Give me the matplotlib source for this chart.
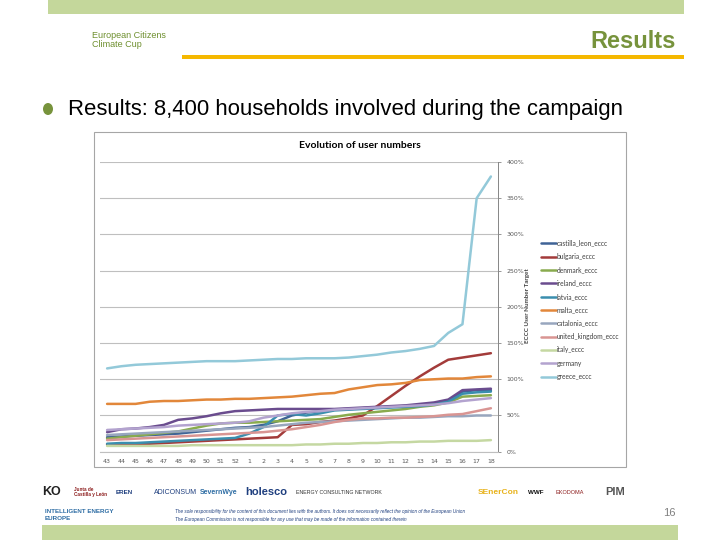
import numpy as np
import matplotlib
matplotlib.use("Agg")
from matplotlib import pyplot as plt
from matplotlib.patches import Rectangle, Ellipse

W, H = 720, 540

# week numbers on the x axis (campaign ran from week 43 to week 18)
WEEKS = ["43", "44", "45", "46", "47", "48", "49", "50", "51", "52",
         "1", "2", "3", "4", "5", "6", "7", "8", "9", "10",
         "11", "12", "13", "14", "15", "16", "17", "18"]

# % of user number target
castilla_leon = [20, 21, 22, 23, 24, 25, 27, 29, 31, 33, 34, 37, 42, 50, 54, 56, 58, 59, 60, 61, 62, 63, 64, 66, 70, 83, 85, 85]
bulgaria = [10, 10, 10, 11, 12, 13, 14, 15, 16, 17, 18, 19, 20, 37, 38, 41, 43, 46, 50, 63, 77, 91, 104, 116, 127, 130, 133, 136]
denmark = [18, 20, 22, 24, 26, 28, 32, 36, 39, 40, 40, 41, 42, 43, 44, 45, 48, 51, 53, 55, 57, 59, 62, 64, 68, 76, 77, 78]
ireland = [27, 31, 32, 34, 37, 44, 46, 49, 53, 56, 57, 58, 59, 59, 59, 59, 59, 60, 61, 62, 63, 64, 66, 68, 72, 85, 86, 87]
latvia = [11, 12, 12, 13, 14, 15, 16, 17, 18, 19, 25, 34, 50, 52, 50, 53, 57, 58, 59, 60, 61, 62, 63, 65, 69, 80, 82, 83]
malta = [66, 66, 66, 69, 70, 70, 71, 72, 72, 73, 73, 74, 75, 76, 78, 80, 81, 86, 89, 92, 93, 95, 99, 100, 101, 101, 103, 104]
catalonia = [23, 24, 25, 26, 27, 28, 29, 30, 31, 32, 33, 34, 36, 38, 40, 41, 42, 43, 44, 45, 46, 47, 47, 48, 49, 49, 50, 50]
united_kingdom = [16, 17, 18, 19, 20, 21, 22, 23, 24, 25, 26, 27, 29, 31, 34, 37, 41, 44, 46, 46, 47, 47, 48, 49, 51, 52, 56, 60]
italy = [8, 8, 8, 8, 8, 8, 9, 9, 9, 9, 9, 9, 9, 9, 10, 10, 11, 11, 12, 12, 13, 13, 14, 14, 15, 15, 15, 16]
germany = [30, 31, 32, 33, 34, 36, 37, 38, 39, 40, 42, 47, 50, 53, 55, 56, 58, 59, 60, 61, 62, 63, 64, 65, 67, 70, 72, 74]
greece = [115, 118, 120, 121, 122, 123, 124, 125, 125, 125, 126, 127, 128, 128, 129, 129, 129, 130, 132, 134, 137, 139, 142, 146, 164, 176, 350, 380]

SERIES_NAMES = ["castilla_leon_eccc", "bulgaria_eccc", "denmark_eccc", "ireland_eccc", "latvia_eccc",
                "malta_eccc", "catalonia_eccc", "united_kingdom_eccc", "italy_eccc", "germany", "greece_eccc"]
SERIES_VALUES = [castilla_leon, bulgaria, denmark, ireland, latvia, malta, catalonia,
                 united_kingdom, italy, germany, greece]
SERIES_COLORS = ["#3F6396", "#A33B3A", "#89AB4E", "#6A4C8E", "#3A8EAE", "#E2873A",
                 "#98A6BE", "#D99593", "#C5D8A2", "#B3A3CF", "#93C9D9"]

Y_TICKS = [0, 50, 100, 150, 200, 250, 300, 350, 400]

GREEN = "#77933C"
BAND = "#C4D79B"


def fx(x):
    return x / W


def fy(y):
    return 1 - y / H


fig = plt.figure(figsize=(7.2, 5.4), dpi=100)

# slide decoration
fig.patches.append(Rectangle((fx(48), fy(14)), fx(684 - 48), 14 / H, transform=fig.transFigure,
                             color=BAND, lw=0))
fig.patches.append(Rectangle((fx(42), fy(540)), fx(678 - 42), 15 / H, transform=fig.transFigure,
                             color=BAND, lw=0))
fig.patches.append(Rectangle((fx(182), fy(59)), fx(684 - 182), 4 / H, transform=fig.transFigure,
                             color="#F5B800", lw=0))
fig.text(fx(676), fy(42), "Results", ha="right", va="center", fontsize=17, fontweight="bold",
         color=GREEN, family="Liberation Sans")
fig.text(fx(92), fy(40), "European Citizens\nClimate Cup", ha="left", va="center", fontsize=6.5,
         color="#6E8F2E", family="Liberation Sans", linespacing=1.1)
fig.patches.append(Ellipse((fx(48), fy(109)), 10 / W, 12 / H, transform=fig.transFigure, color=GREEN, lw=0))
fig.text(fx(68), fy(109), "Results: 8,400 households involved during the campaign", ha="left",
         va="center", fontsize=15.9, color="black", family="Liberation Sans")

# chart frame
fig.patches.append(Rectangle((fx(94), fy(467)), fx(626 - 94), (467 - 132) / H, transform=fig.transFigure,
                             fill=False, ec="#A6A6A6", lw=0.8))

ax = fig.add_axes([fx(100), fy(451.7), fx(498 - 100), (451.7 - 162) / H])
x = np.arange(len(WEEKS))
for name, vals, col in zip(SERIES_NAMES, SERIES_VALUES, SERIES_COLORS):
    ax.plot(x, vals, color=col, lw=1.8, label=name, solid_capstyle="round")

ax.set_xlim(-0.5, len(WEEKS) - 0.5)
ax.set_ylim(0, 400)
ax.set_xticks(x)
ax.set_xticklabels(WEEKS)
ax.set_yticks(Y_TICKS)
ax.set_yticklabels([f"{v}%" for v in Y_TICKS])
ax.yaxis.tick_right()
ax.tick_params(axis="y", length=2, width=0.6, color="#868686", labelsize=4.5, labelcolor="#595959", pad=4)
ax.tick_params(axis="x", length=0, labelsize=4.5, labelcolor="#595959", pad=5)
ax.grid(True, axis="y", color="#BFBFBF", lw=0.8)
ax.set_axisbelow(True)
for side in ["left", "top"]:
    ax.spines[side].set_visible(False)
ax.spines["right"].set_color("#868686")
ax.spines["right"].set_linewidth(0.7)
ax.spines["bottom"].set_color("#BFBFBF")
ax.spines["bottom"].set_linewidth(0.8)

fig.text(fx(360), fy(146), "Evolution of user numbers", ha="center", va="center", fontsize=7.5,
         fontweight="bold", family="Lato", color="black")
fig.text(fx(527), fy(306), "ECCC User Number Target", ha="center", va="center", rotation=90,
         fontsize=4.5, fontweight="bold", family="Lato", color="#404040")

fig.legend(loc="upper left", bbox_to_anchor=(fx(538), fy(237)), frameon=False,
           handlelength=2.3, handletextpad=0.1, labelspacing=0.95, borderaxespad=0,
           labelcolor="#404040", prop={"family": "Lato", "size": 4.8})

# footer: partner logos (as text)
logos = [
    (42, "KO", "#222222", 9, "bold"),
    (74, "Junta de\nCastilla y León", "#8B1A1A", 3.3, "bold"),
    (116, "EREN", "#1F3F7F", 4.5, "bold"),
    (154, "ADICONSUM", "#1F3F7F", 5, "normal"),
    (200, "SevernWye", "#2E6DA4", 5, "bold"),
    (245, "holesco", "#1F3F7F", 8, "bold"),
    (296, "ENERGY CONSULTING NETWORK", "#333333", 3.8, "normal"),
    (478, "SEnerCon", "#E8B21A", 6, "bold"),
    (528, "WWF", "#111111", 4.5, "bold"),
    (556, "EKODOMA", "#8B1A1A", 4, "normal"),
    (605, "PIM", "#555555", 8, "bold"),
]
for xp, txt, col, size, wt in logos:
    fig.text(fx(xp), fy(492), txt, ha="left", va="center", fontsize=size, fontweight=wt,
             color=col, family="Liberation Sans", linespacing=0.9)
fig.text(fx(45), fy(515), "INTELLIGENT ENERGY\nEUROPE", ha="left", va="center", fontsize=4.5,
         color="#2E6DA4", family="Liberation Sans", fontweight="bold", linespacing=1.4)
fig.text(fx(175), fy(511), "The sole responsibility for the content of this document lies with the authors. "
         "It does not necessarily reflect the opinion of the European Union",
         ha="left", va="center", fontsize=3.3, style="italic", color="#1F3F7F", family="Liberation Sans")
fig.text(fx(175), fy(519), "The European Commission is not responsible for any use that may be made of the "
         "information contained therein", ha="left", va="center", fontsize=3.3, style="italic",
         color="#1F3F7F", family="Liberation Sans")
fig.text(fx(676), fy(513), "16", ha="right", va="center", fontsize=8, color="#808080",
         family="Liberation Sans")

fig.savefig("out.png", dpi=100)
